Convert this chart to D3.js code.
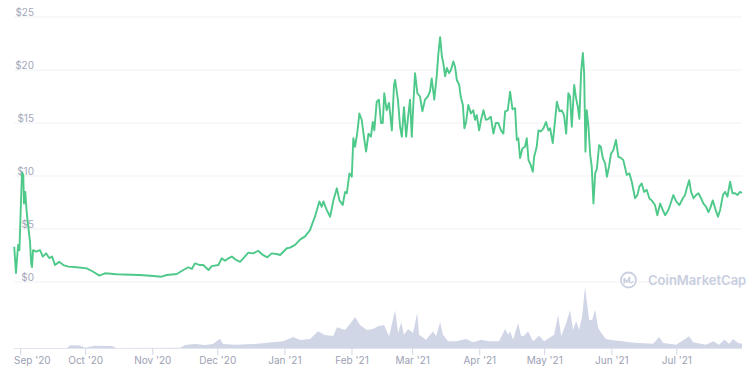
<!DOCTYPE html>
<html>
<head>
<meta charset="utf-8">
<script src="https://cdn.jsdelivr.net/npm/d3@7"></script>
<style>
  body { margin: 0; background: #fff; }
  svg { display: block; font-family: Inter, "Noto Sans", sans-serif; }
</style>
</head>
<body>
<svg id="chart" width="756" height="375"></svg>
<script>
// day offsets are counted from 1 Sep 2020
const startDate = Date.UTC(2020, 8, 1);

// [day, price in USD]
const price = [
  [-3,3.33],[-2.2,0.85],[-1.2,3.5],[-0.6,3.0],[0.1,7.4],[0.6,10.3],[1.2,10.1],[1.5,7.4],[2.1,8.5],[2.8,6.5],
  [3.5,5.2],[4.3,3.8],[4.8,1.8],[5.2,1.4],[5.7,3.0],[7.1,2.86],[8.9,3.0],[10.2,2.4],[11.7,2.7],[13.2,2.26],
  [14.5,2.4],[15.8,1.6],[17.8,1.9],[19.7,1.6],[22,1.45],[25.9,1.39],[30.5,1.29],[33.5,0.97],[36.3,0.6],[38.9,0.82],
  [44.3,0.73],[54.3,0.66],[55.1,0.66],[61.2,0.57],[65.1,0.5],[67.4,0.66],[72.1,0.75],[75.1,1.13],[77.4,1.39],[79,1.23],
  [80.5,1.76],[82.8,1.6],[84.3,1.6],[86.7,1.13],[88.2,1.5],[91.3,1.6],[92.8,2.23],[94.4,2.0],[95.9,2.23],[97.5,2.4],
  [99,2.14],[101.3,1.9],[102.8,2.23],[105.1,2.77],[107.4,2.7],[109.7,2.95],[111.8,2.55],[113.9,2.33],[115.9,2.7],[118.2,2.64],
  [119.8,2.55],[122.9,3.18],[124.4,3.24],[126.7,3.5],[129,4.0],[131.3,4.3],[133.6,4.9],[135,5.7],[135.9,6.16],[137.9,7.6],
  [139,7.1],[139.8,7.6],[141.3,6.8],[142.9,6.16],[144.4,7.7],[146,8.84],[147.2,7.7],[148.7,7.26],[149.8,8.5],[150.6,8.37],
  [151.8,10.25],[152.9,9.93],[153.6,13.56],[154.4,12.76],[155.5,14.18],[156.4,15.9],[157.5,15.28],[158.6,13.56],[159.5,12.3],[160.6,14.0],
  [161.7,13.7],[162.6,15.1],[163.3,14.3],[164.4,17.0],[165.4,17.2],[166.4,15.0],[167.2,15.0],[167.9,17.8],[169,16.2],[170.1,16.9],
  [171.4,14.3],[172.4,18.6],[172.9,19.06],[174.2,17.2],[175.2,14.65],[176,13.7],[177,16.5],[178,13.7],[178.8,15.4],[179.8,17.2],
  [180.6,13.7],[181.3,16.7],[182.1,19.7],[183.2,17.8],[184.4,17.5],[185.5,16.1],[186.7,17.2],[188,17.5],[189,17.95],[189.8,19.2],
  [191,17.2],[192.1,19.4],[192.9,21.6],[193.7,23.1],[194.5,21.3],[195.2,20.6],[196,19.4],[196.8,20.2],[197.8,19.7],[198.7,20.0],
  [199.8,20.8],[200.6,20.3],[201.4,19.06],[202.5,18.6],[203.2,17.5],[204.2,16.7],[204.9,14.5],[205.7,15.1],[206.7,16.7],[207.9,15.9],
  [209,16.2],[209.8,15.3],[210.6,15.75],[211.7,14.3],[212.6,15.3],[213.7,16.2],[214.8,15.3],[216,15.4],[217.1,15.6],[218.3,14.0],
  [219.4,15.0],[220.6,15.0],[221.8,14.3],[222.9,14.0],[223.7,16.1],[224.9,16.2],[226,17.95],[227.1,16.3],[228.3,16.4],[229.1,13.4],
  [229.8,13.56],[230.6,11.7],[231.7,12.6],[232.9,12.76],[233.7,13.56],[234.5,11.5],[235.6,11.0],[236.5,10.4],[237.1,11.8],[238.3,12.76],
  [239.1,14.3],[240.2,14.2],[241.4,14.5],[242.6,15.1],[243.7,14.3],[244.5,14.5],[245.7,13.1],[246.8,15.3],[247.6,17.0],[248.8,16.1],
  [249.9,16.2],[250.9,15.75],[251.9,14.0],[252.9,17.8],[253.7,17.5],[254.5,14.65],[255.6,18.6],[256.5,17.3],[257.3,16.5],[258,15.4],
  [258.8,19.8],[259.6,21.6],[260.2,19.7],[260.8,12.3],[261.4,16.2],[262.2,14.65],[263,12.0],[263.7,10.9],[264.5,7.4],[265.3,10.25],
  [266.1,10.7],[267.1,12.9],[267.9,12.76],[268.8,11.7],[269.9,11.2],[270.7,9.93],[271.7,10.9],[272.6,12.1],[273.7,12.45],[274.9,13.4],
  [276,11.8],[277.2,11.7],[278.3,11.5],[279.9,10.1],[281.1,10.25],[282.2,9.46],[283.7,7.9],[284.8,8.2],[285.7,9.0],[286.8,9.3],
  [287.9,8.5],[289.1,8.7],[290.3,7.9],[291.4,7.7],[292.9,7.26],[294,6.3],[295.3,7.4],[296.5,6.8],[297.6,6.3],[299.1,6.8],
  [299.9,7.26],[301.4,8.2],[302.7,7.6],[304.2,7.26],[305.8,7.9],[306.8,8.2],[307.6,8.84],[308.7,9.6],[309.6,8.5],[310.7,7.9],
  [311.9,8.2],[313,8.37],[314.2,7.9],[315.3,7.4],[316.5,7.1],[317.6,6.6],[318.4,6.95],[319.6,7.7],[320.7,6.95],[322,6.16],
  [323,6.8],[324.3,8.2],[325.3,8.5],[326.4,8.05],[327.6,9.46],[328.7,8.37],[329.9,8.37],[331,8.2],[332.2,8.5],[333.1,8.4]
];

// [day, 24h volume in USD millions]
const volume = [
  [-3.1,0],[21.4,0],[22.8,135],[27.4,125],[29.7,15],[34.3,115],[42.2,100],[44,0],[73.6,15],[75.9,150],
  [80.5,200],[85.1,150],[88.8,200],[92,465],[93.4,200],[99,165],[107.3,200],[112.8,250],[121.2,335],[125.8,550],
  [129,400],[133.6,450],[137.3,835],[140.5,650],[144.3,600],[146.1,1035],[149.8,900],[153,1335],[154.4,1550],[156.7,1150],
  [159.9,900],[162.7,950],[165,1085],[167.8,1150],[170.1,585],[172.9,1885],[174.3,750],[175.7,1285],[177,665],[178.9,950],
  [181.2,750],[183.1,1750],[184,665],[187.2,415],[190.4,835],[191.8,585],[193.7,1285],[195,665],[197.4,335],[201.1,335],
  [205.7,450],[208.9,285],[212.6,415],[216.3,335],[220.9,335],[223.7,950],[225.1,665],[226,835],[227.4,415],[229.7,1250],
  [231.1,585],[232.5,615],[234.3,835],[236.6,335],[239.4,615],[241.7,335],[244,500],[246.3,665],[248.2,1650],[249.6,585],
  [251.9,1250],[253.7,1885],[255.1,915],[256.5,1335],[257.9,915],[259.3,1600],[260.6,3050],[262.5,1400],[263.9,1400],[265.3,1915],
  [266.7,1000],[268.1,750],[270.3,450],[273.6,385],[278.2,335],[281,285],[285.6,250],[292.1,215],[294.8,550],[296.7,250],
  [302.7,165],[308.7,585],[310.5,285],[316.5,165],[319.8,335],[322.5,165],[324.9,415],[327.2,215],[329,450],[331.3,250],
  [333.1,215]
];

const yTicks = [0, 5, 10, 15, 20, 25];
const monthTicks = ["2020-09-01","2020-10-01","2020-11-01","2020-12-01","2021-01-01","2021-02-01",
                    "2021-03-01","2021-04-01","2021-05-01","2021-06-01","2021-07-01"];

const dayToDate = d => new Date(startDate + d * 864e5);
const left = 14, right = 742;
const svg = d3.select("#chart");

const x = d3.scaleUtc().domain([dayToDate(-3.1), dayToDate(333.1)]).range([left, right]);
const y = d3.scaleLinear().domain([0, 25]).range([282, 17]);
const yVol = d3.scaleLinear().domain([0, 3050]).range([348, 287]);

// horizontal grid + price labels
svg.append("g").selectAll("line").data(yTicks).join("line")
  .attr("x1", left).attr("x2", right)
  .attr("y1", d => y(d)).attr("y2", d => y(d))
  .attr("stroke", "#f0f1f4").attr("stroke-width", 1);

svg.append("g").selectAll("text").data(yTicks).join("text")
  .attr("x", 34).attr("y", d => y(d) - 1)
  .attr("text-anchor", "end")
  .attr("font-size", 10).attr("fill", "#a3a8ba")
  .text(d => "$" + d);

// volume area
svg.append("path").datum(volume)
  .attr("fill", "#d1d6e7")
  .attr("d", d3.area()
    .x(d => x(dayToDate(d[0])))
    .y0(yVol(0))
    .y1(d => yVol(d[1])));

// time axis
const months = monthTicks.map(s => new Date(s + "T00:00:00Z"));
svg.append("line")
  .attr("x1", left).attr("x2", right).attr("y1", 348.5).attr("y2", 348.5)
  .attr("stroke", "#e2e5ee");
svg.append("g").selectAll("line").data(months).join("line")
  .attr("x1", d => x(d)).attr("x2", d => x(d))
  .attr("y1", 348).attr("y2", 355)
  .attr("stroke", "#d3d7e3");
svg.append("g").selectAll("text").data(months).join("text")
  .attr("x", d => x(d)).attr("y", 364)
  .attr("text-anchor", "middle")
  .attr("font-size", 10).attr("fill", "#9ca1b4")
  .text(d => d3.utcFormat("%b '%y")(d))
  .each(function () {
    const w = this.getComputedTextLength();
    const cx = +this.getAttribute("x");
    if (cx - w / 2 < left) this.setAttribute("x", left + w / 2);
  });

// watermark
const wm = svg.append("g").attr("transform", "translate(628.5,280)");
wm.append("circle").attr("r", 7.5).attr("fill", "#fff").attr("stroke", "#ccd1e2").attr("stroke-width", 1.8);
wm.append("path")
  .attr("d", "M-4.3,3 L-4.3,-1.5 L-1.6,2.2 L1,-2.6 L1,2 Q2,3.6 4.6,1.5")
  .attr("fill", "none").attr("stroke", "#ccd1e2").attr("stroke-width", 1.6)
  .attr("stroke-linejoin", "round").attr("stroke-linecap", "round");
svg.append("text")
  .attr("x", 648).attr("y", 285)
  .attr("font-size", 13).attr("font-weight", 600).attr("fill", "#c9cee0")
  .text("CoinMarketCap");

// price line
svg.append("path").datum(price)
  .attr("fill", "none")
  .attr("stroke", "#4ec98a")
  .attr("stroke-width", 1.9)
  .attr("stroke-linejoin", "round")
  .attr("d", d3.line()
    .x(d => x(dayToDate(d[0])))
    .y(d => y(d[1])));
</script>
</body>
</html>
